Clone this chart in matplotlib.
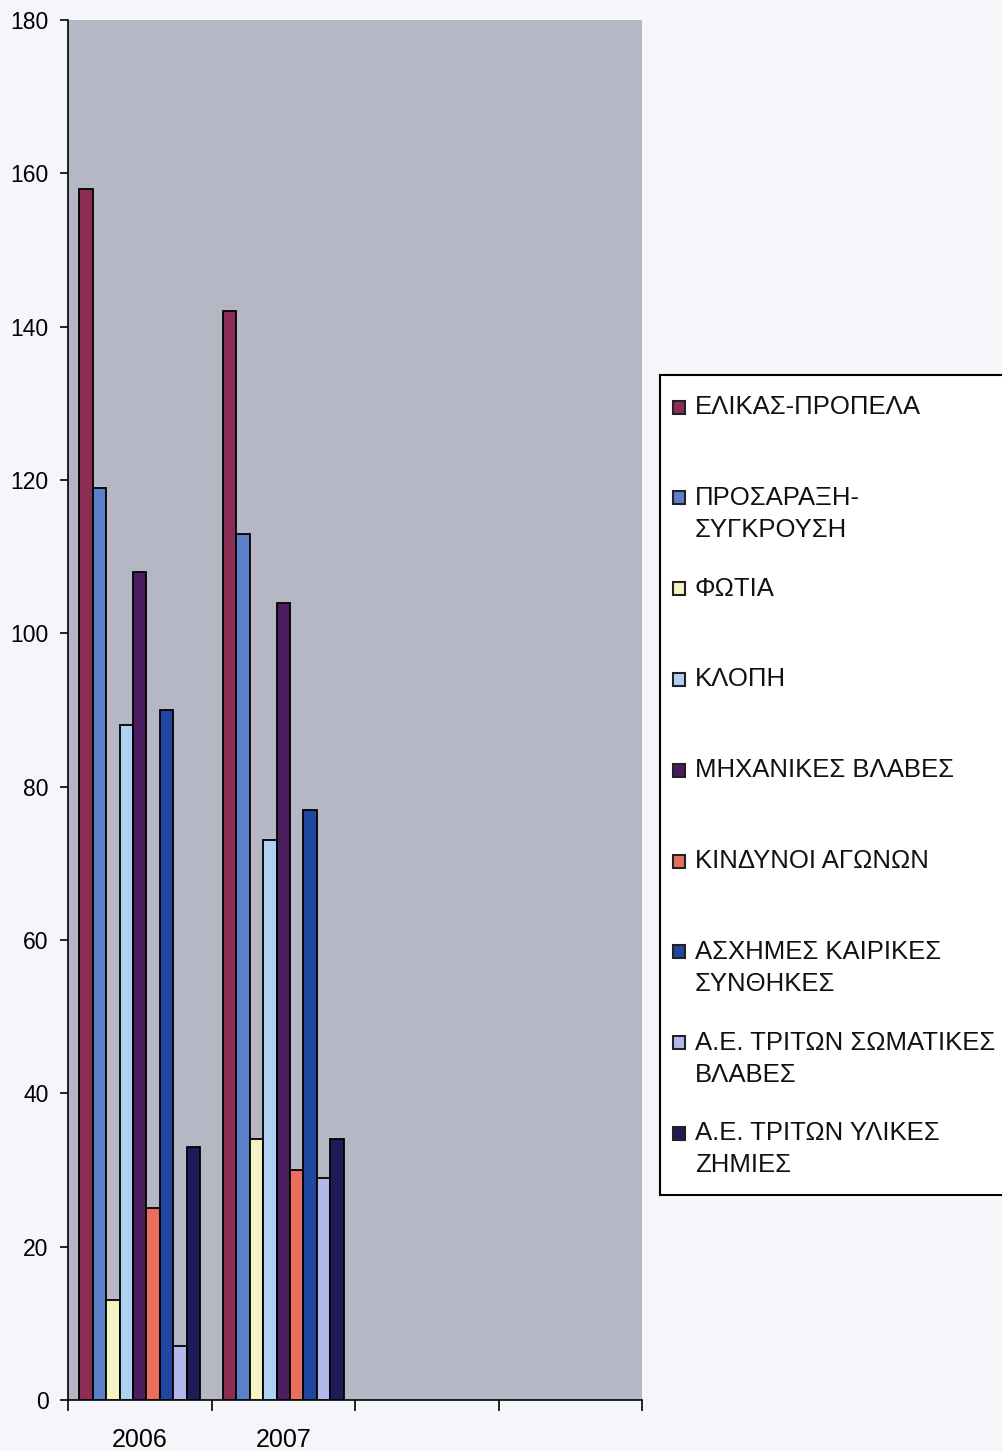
import numpy as np
import matplotlib
matplotlib.use("Agg")
import matplotlib.pyplot as plt
from matplotlib.patches import Rectangle
from matplotlib.ticker import FixedLocator

plt.rcParams['font.family'] = ['Liberation Sans', 'DejaVu Sans']

# categories on the x axis (last two slots are empty in the original)
years = ['2006', '2007', '', '']

series_names = [
    'ΕΛΙΚΑΣ-ΠΡΟΠΕΛΑ',
    'ΠΡΟΣΑΡΑΞΗ-\nΣΥΓΚΡΟΥΣΗ',
    'ΦΩΤΙΑ',
    'ΚΛΟΠΗ',
    'ΜΗΧΑΝΙΚΕΣ ΒΛΑΒΕΣ',
    'ΚΙΝΔΥΝΟΙ ΑΓΩΝΩΝ',
    'ΑΣΧΗΜΕΣ ΚΑΙΡΙΚΕΣ\nΣΥΝΘΗΚΕΣ',
    'Α.Ε. ΤΡΙΤΩΝ ΣΩΜΑΤΙΚΕΣ\nΒΛΑΒΕΣ',
    'Α.Ε. ΤΡΙΤΩΝ ΥΛΙΚΕΣ\nΖΗΜΙΕΣ',
]

vals_2006 = [158, 119, 13, 88, 108, 25, 90, 7, 33]
vals_2007 = [142, 113, 34, 73, 104, 30, 77, 29, 34]

colors = ['#8c2d55', '#5b7fca', '#f6f3c2', '#b0d2f2', '#4b1d5f',
          '#ea6e5d', '#1f479f', '#b2b7ec', '#1d1c58']

W, H = 1002, 1451
fig = plt.figure(figsize=(W / 100, H / 100), dpi=100)
fig.patch.set_facecolor('#f4f6fa')
ax = fig.add_axes([68/W, 51/H, 574/W, 1380/H])
ax.set_facecolor('#b5b7c5')

data = np.array([vals_2006, vals_2007])
n = len(series_names)
w = 0.094
x = np.arange(data.shape[0]) + 0.5
for j in range(n):
    ax.bar(x + (j - (n - 1) / 2) * w, data[:, j], width=w, color=colors[j],
           edgecolor='black', linewidth=1.3, zorder=3)

ax.set_xlim(0, len(years))
ax.set_ylim(0, 180)
ax.set_yticks(np.arange(0, 181, 20))
ax.set_xticks(np.arange(len(years)) + 0.5)
ax.set_xticklabels(years)
ax.xaxis.set_minor_locator(FixedLocator(np.arange(len(years) + 1)))
ax.tick_params(axis='x', which='major', length=0, pad=20, labelsize=18)
ax.tick_params(axis='x', which='minor', length=8, width=1.2, direction='out')
ax.tick_params(axis='y', length=6, width=1.2, labelsize=16.5, pad=8)

for s in ['top', 'right']:
    ax.spines[s].set_visible(False)
for s in ['left', 'bottom']:
    ax.spines[s].set_linewidth(1.2)

# legend box drawn by hand so that each entry keeps a fixed slot
# and its marker sits on the first line of a wrapped label
fig.patches.append(Rectangle((660/W, 1 - 1195/H), 360/W, 820/H,
                             transform=fig.transFigure, facecolor='white',
                             edgecolor='black', linewidth=1.5))
step = 90.8
for i, (name, c) in enumerate(zip(series_names, colors)):
    yc = 407 + i * step
    fig.patches.append(Rectangle((673/W, 1 - (yc + 6.5)/H), 12/W, 13/H,
                                 transform=fig.transFigure, facecolor=c,
                                 edgecolor='#222222', linewidth=1.5))
    for k, line in enumerate(name.split('\n')):
        fig.text(695/W, 1 - (yc + k * 32)/H, line, fontsize=18.5,
                 ha='left', va='center', color='#111111')

fig.savefig('out.png', dpi=100, facecolor=fig.get_facecolor())
